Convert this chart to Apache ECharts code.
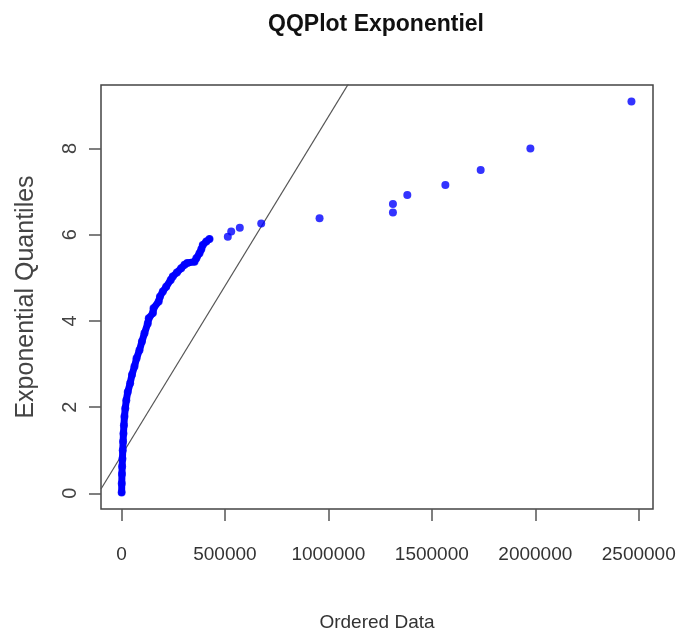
<!DOCTYPE html>
<html>
<head>
<meta charset="utf-8">
<script src="https://cdn.jsdelivr.net/npm/echarts@6/dist/echarts.min.js"></script>
<style>html,body{margin:0;padding:0;background:#fff}#c{width:676px;height:637px}</style>
</head>
<body>
<div id="c"></div>
<script>
// Dense part of the QQ curve: [ordered data, exponential quantile]
var densePoints = [
  [1000,0.02],[1500,0.23],[2500,0.45],[3400,0.62],[4800,0.80],[6300,1.00],[8000,1.20],
  [9700,1.39],[12000,1.58],[14500,1.78],[18500,1.97],[23500,2.16],[30500,2.35],[42000,2.55],
  [51000,2.75],[62900,2.94],[73000,3.13],[87000,3.32],[99000,3.52],[111200,3.71],[127200,3.94],
  [132000,4.06],[152000,4.18],[155000,4.29],[180000,4.45],[186000,4.56],[200000,4.68],
  [216100,4.79],[238000,4.95],[248100,5.03],[268000,5.12],[288700,5.22],[305000,5.30],
  [318000,5.34],[353000,5.37],[362000,5.45],[377200,5.57],[386000,5.66],[393000,5.76],
  [410000,5.84],[425500,5.90]
];
// Isolated upper-tail points
var tailPoints = [
  [514000,5.95],[530500,6.07],[572000,6.16],[675500,6.26],[957400,6.38],[1312000,6.51],
  [1312000,6.71],[1381500,6.92],[1565300,7.15],[1736000,7.50],[1976300,8.00],[2464700,9.09]
];
var xTicks = [0,500000,1000000,1500000,2000000,2500000];
var yTicks = [0,2,4,6,8];
var lineIntercept = 0.875;
var lineSlope = 7.86e-6;
var xRange = [-98800, 2568800];
var yRange = [-0.364, 9.47];

var refLine = [
  [xRange[0], lineIntercept + lineSlope * xRange[0]],
  [xRange[1], lineIntercept + lineSlope * xRange[1]]
];

var chart = echarts.init(document.getElementById('c'), null, {renderer:'canvas'});
var font = "'Liberation Sans',Arial,sans-serif";
chart.setOption({
  animation:false,
  backgroundColor:'#fff',
  title:{
    text:'QQPlot Exponentiel', left:371, textAlign:'center', top:8,
    textStyle:{fontFamily:font, fontWeight:'bold', fontSize:23, color:'#111'}
  },
  grid:{left:101, top:85, right:23, bottom:128, show:true, borderColor:'#444', borderWidth:1.5,
    backgroundColor:'transparent', containLabel:false, outerBoundsMode:'none'},
  xAxis:{
    type:'value', min:xRange[0], max:xRange[1],
    name:'Ordered Data', nameLocation:'middle', nameGap:104,
    nameTextStyle:{fontFamily:font, fontSize:19, color:'#333'},
    axisLine:{show:false, onZero:false},
    splitLine:{show:false},
    axisTick:{show:true, inside:false, length:12, customValues:xTicks, lineStyle:{color:'#555', width:1.5}},
    axisLabel:{customValues:xTicks, margin:36, fontFamily:font, fontSize:19, color:'#333',
      formatter:function(v){return String(v);}}
  },
  yAxis:{
    type:'value', min:yRange[0], max:yRange[1],
    name:'Exponential Quantiles', nameLocation:'middle', nameGap:62, nameRotate:90,
    nameTextStyle:{fontFamily:font, fontSize:25, color:'#444'},
    axisLine:{show:false, onZero:false},
    splitLine:{show:false},
    axisTick:{show:true, inside:false, length:12, customValues:yTicks, lineStyle:{color:'#555', width:1.5}},
    axisLabel:{customValues:yTicks, rotate:90, margin:21, fontFamily:font, fontSize:20, color:'#444'}
  },
  series:[
    {type:'line', data:refLine, showSymbol:false, clip:true, lineStyle:{color:'#555', width:1.2}, silent:true, z:1},
    {type:'line', data:densePoints, showSymbol:false, clip:true, lineStyle:{color:'#0000ff', width:7, cap:'round', join:'round'}, z:2},
    {type:'scatter', data:densePoints, symbolSize:8, itemStyle:{color:'#0000ff'}, z:3},
    {type:'scatter', data:tailPoints, symbolSize:8, itemStyle:{color:'#0000ff'}, z:3}
  ]
});
</script>
</body>
</html>
